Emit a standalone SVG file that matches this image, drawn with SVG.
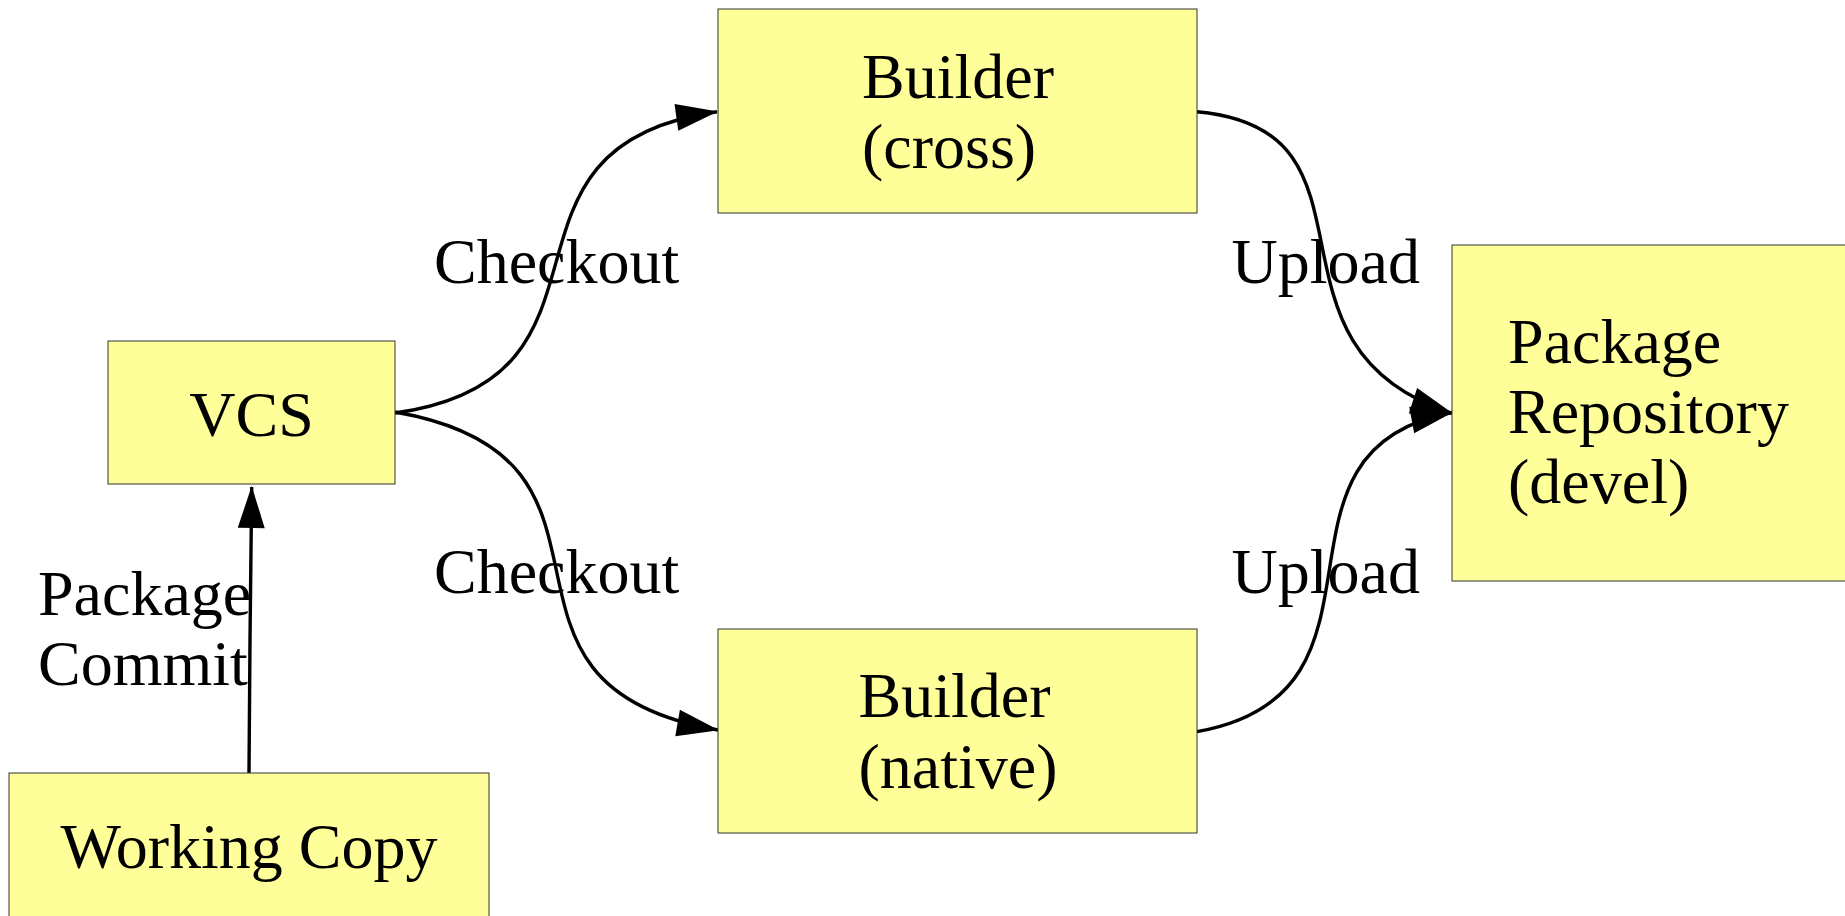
<svg xmlns="http://www.w3.org/2000/svg" width="1845" height="916" viewBox="0 0 1845 916">
  <style>
    .box { fill: #ffff99; stroke: #333333; stroke-width: 1; }
    .lbl { font-family: "Liberation Serif", "Times New Roman", serif; font-size: 64px; fill: #000000; }
    .mid { text-anchor: middle; }
    .edge { fill: none; stroke: #000000; stroke-width: 3.4; }
  </style>
  <defs>
    <marker id="arrow" markerUnits="userSpaceOnUse" markerWidth="42" markerHeight="28" refX="41" refY="13.5" orient="auto" overflow="visible">
      <path d="M0,0 L42,13.5 L0,27 z" fill="#000000"/>
    </marker>
  </defs>
  <rect width="1845" height="916" fill="#ffffff"/>

  <!-- connectors -->
  <g id="connectors">
    <path class="edge" d="M249,773 L250,640 L251.7,487" marker-end="url(#arrow)"/>
    <path class="edge" d="M395,413 C642.5,378.2 469.5,146.5 717,111.7" marker-end="url(#arrow)"/>
    <path class="edge" d="M395,412 C661,457.9 452,684.1 718,730" marker-end="url(#arrow)"/>
    <path class="edge" d="M1197,111.7 C1396.2,129.1 1245,346.6 1452,413.3" marker-end="url(#arrow)"/>
    <path class="edge" d="M1197,731.7 C1413.7,693.4 1247.3,450.5 1452,412.5" marker-end="url(#arrow)"/>
  </g>

  <!-- edge labels -->
  <g id="edge-labels">
    <text class="lbl" x="38" y="615">Package</text>
    <text class="lbl" x="38" y="685">Commit</text>
    <text class="lbl" x="434" y="283">Checkout</text>
    <text class="lbl" x="434" y="593">Checkout</text>
    <text class="lbl" x="1231.5" y="283">Upload</text>
    <text class="lbl" x="1231.5" y="593">Upload</text>
  </g>

  <g id="vcs">
    <rect class="box" x="108" y="341" width="287" height="143"/>
    <text class="lbl mid" x="251.5" y="436">VCS</text>
  </g>

  <g id="working-copy">
    <rect class="box" x="9" y="773" width="480" height="150"/>
    <text class="lbl mid" x="249" y="868">Working Copy</text>
  </g>

  <g id="builder-cross">
    <rect class="box" x="718" y="9" width="479" height="204"/>
    <text class="lbl" x="862" y="98">Builder</text>
    <text class="lbl" x="862" y="168">(cross)</text>
  </g>

  <g id="builder-native">
    <rect class="box" x="718" y="629" width="479" height="204"/>
    <text class="lbl" x="858.5" y="717">Builder</text>
    <text class="lbl" x="858.5" y="788">(native)</text>
  </g>

  <g id="package-repository">
    <rect class="box" x="1452" y="245" width="420" height="336"/>
    <text class="lbl" x="1508" y="363">Package</text>
    <text class="lbl" x="1508" y="433">Repository</text>
    <text class="lbl" x="1508" y="503">(devel)</text>
  </g>
</svg>
